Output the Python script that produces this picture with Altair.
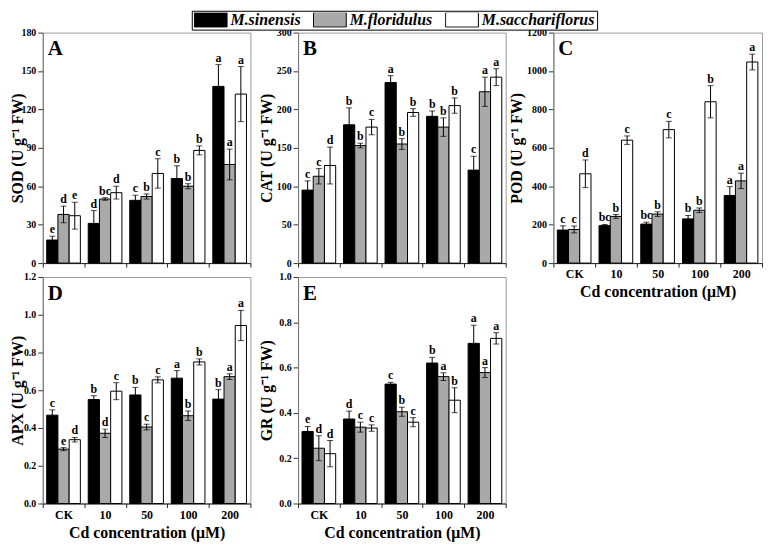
import altair as alt
import pandas as pd

FONT = "Liberation Serif"

groups = ["CK", "10", "50", "100", "200"]
species = ["M.sinensis", "M.floridulus", "M.sacchariflorus"]
fills = ["#000000", "#a9a9a9", "#ffffff"]

# A  SOD
sod_sin = [18, 31, 49, 66, 138]
sod_flo = [38, 50, 52, 60, 77]
sod_sac = [37, 55, 70, 88, 132]
sod_sin_err = [3, 10, 4, 10, 17]
sod_flo_err = [6.5, 1, 2, 2, 12]
sod_sac_err = [10.5, 5, 11.5, 3.5, 21.5]
sod_sin_sig = ["e", "d", "c", "b", "a"]
sod_flo_sig = ["d", "bc", "b", "b", "a"]
sod_sac_sig = ["e", "d", "c", "b", "a"]

# B  CAT
cat_sin = [95, 180, 235, 191, 121]
cat_flo = [113, 153, 155, 177, 223]
cat_sac = [127, 177, 196, 205, 242]
cat_sin_err = [12, 22, 9, 7, 18]
cat_flo_err = [10, 3, 7, 12, 19]
cat_sac_err = [24, 10, 5, 10, 11]
cat_sin_sig = ["c", "b", "a", "b", "c"]
cat_flo_sig = ["c", "b", "b", "b", "a"]
cat_sac_sig = ["d", "c", "b", "b", "a"]

# C  POD
pod_sin = [172, 195, 203, 230, 352]
pod_flo = [175, 243, 255, 275, 428]
pod_sac = [465, 640, 695, 840, 1047]
pod_sin_err = [22, 6, 10, 18, 46]
pod_flo_err = [18, 10, 12, 12, 40]
pod_sac_err = [72, 22, 43, 84, 41]
pod_sin_sig = ["c", "bc", "bc", "b", "a"]
pod_flo_sig = ["c", "b", "b", "b", "a"]
pod_sac_sig = ["d", "c", "c", "b", "a"]

# D  APX
apx_sin = [0.468, 0.551, 0.575, 0.664, 0.553]
apx_flo = [0.288, 0.372, 0.405, 0.465, 0.672]
apx_sac = [0.338, 0.595, 0.655, 0.750, 0.943]
apx_sin_err = [0.028, 0.020, 0.040, 0.040, 0.050]
apx_flo_err = [0.008, 0.022, 0.015, 0.025, 0.015]
apx_sac_err = [0.012, 0.045, 0.016, 0.016, 0.080]
apx_sin_sig = ["c", "b", "b", "a", "b"]
apx_flo_sig = ["e", "d", "c", "b", "a"]
apx_sac_sig = ["d", "c", "c", "b", "a"]

# E  GR
gr_sin = [0.318, 0.373, 0.527, 0.620, 0.707]
gr_flo = [0.244, 0.337, 0.405, 0.560, 0.578]
gr_sac = [0.220, 0.333, 0.359, 0.456, 0.729]
gr_sin_err = [0.022, 0.035, 0.008, 0.025, 0.080]
gr_flo_err = [0.055, 0.022, 0.020, 0.017, 0.022]
gr_sac_err = [0.058, 0.014, 0.020, 0.055, 0.025]
gr_sin_sig = ["e", "d", "c", "b", "a"]
gr_flo_sig = ["d", "c", "b", "a", "a"]
gr_sac_sig = ["d", "c", "c", "b", "a"]

sod_ticks = [0, 30, 60, 90, 120, 150, 180]
cat_ticks = [0, 50, 100, 150, 200, 250, 300]
pod_ticks = [0, 200, 400, 600, 800, 1000, 1200]
apx_ticks = [0, 0.2, 0.4, 0.6, 0.8, 1.0, 1.2]
gr_ticks = [0, 0.2, 0.4, 0.6, 0.8, 1.0]

legend = alt.Legend(
    title=None, orient="none", legendX=150, legendY=-22, direction="horizontal",
    symbolType="M-1,-0.45H1V0.45H-1Z", symbolSize=1089, symbolStrokeColor="black",
    symbolStrokeWidth=1, symbolOpacity=1, clipHeight=14, labelFont=FONT,
    labelFontStyle="italic", labelFontWeight="bold", labelFontSize=16,
    labelColor="black", labelOffset=3, columnPadding=12, padding=2,
    strokeColor="black", fillColor="white",
)


def make_df(means, errs, sigs):
    rows = []
    for sp, m, e, s in zip(species, means, errs, sigs):
        for g, v, ev, sv in zip(groups, m, e, s):
            rows.append({"group": g, "species": sp, "value": v, "lo": v - ev, "hi": v + ev, "sig": sv})
    return pd.DataFrame(rows)


def panel(means, errs, sigs, ticks, fmt, tag, ytitle, show_x, title_x, w, h):
    df = make_df(means, errs, sigs)
    xaxis = dict(tickBand="extent", tickSize=4, tickColor="#222", domainColor="#222",
                 labelAngle=0, labelPadding=2)
    if show_x:
        xaxis.update(labels=True, labelFont=FONT, labelFontSize=12, labelFontWeight="bold",
                     labelColor="black", titleFont=FONT, titleFontSize=16,
                     titleFontWeight="bold", titleColor="black", titlePadding=4)
        xenc = alt.X("group:N", sort=groups, title="Cd concentration (μM)",
                     scale=alt.Scale(paddingInner=0, paddingOuter=0), axis=alt.Axis(**xaxis))
    else:
        xaxis.update(labels=False)
        xenc = alt.X("group:N", sort=groups, title=None,
                     scale=alt.Scale(paddingInner=0, paddingOuter=0), axis=alt.Axis(**xaxis))
    xoff = alt.XOffset("species:N", sort=species,
                       scale=alt.Scale(paddingInner=0, paddingOuter=0.35))
    yscale = alt.Scale(domain=[ticks[0], ticks[-1]], nice=False, zero=True)
    yaxis = alt.Axis(values=ticks, format=fmt, grid=False, tickSize=5, labelPadding=2,
                     labelOverlap=False, labelSeparation=0, tickColor="#333",
                     domainColor="#777", labelFont=FONT, labelFontSize=10,
                     labelFontWeight="bold", labelColor="black", titleFont=FONT,
                     titleFontSize=16, titleFontWeight="bold", titleColor="black",
                     titleX=title_x)
    base = alt.Chart(df)
    bars = base.mark_bar(stroke="black", strokeWidth=1).encode(
        x=xenc, xOffset=xoff,
        y=alt.Y("value:Q", scale=yscale, axis=yaxis, title=ytitle),
        fill=alt.Fill("species:N", sort=species,
                      scale=alt.Scale(domain=species, range=fills), legend=legend),
    )
    rules = base.mark_rule(color="black", strokeWidth=1).encode(
        x=xenc, xOffset=xoff, y=alt.Y("lo:Q", scale=yscale, axis=yaxis, title=ytitle),
        y2="hi:Q")
    cap_hi = base.mark_tick(color="black", size=6, thickness=1).encode(
        x=xenc, xOffset=xoff, y=alt.Y("hi:Q", scale=yscale, axis=yaxis, title=ytitle))
    cap_lo = base.mark_tick(color="black", size=6, thickness=1).encode(
        x=xenc, xOffset=xoff, y=alt.Y("lo:Q", scale=yscale, axis=yaxis, title=ytitle))
    letters = base.mark_text(baseline="alphabetic", dy=-3, font=FONT, fontSize=12,
                             fontWeight="bold", color="black").encode(
        x=xenc, xOffset=xoff, y=alt.Y("hi:Q", scale=yscale, axis=yaxis, title=ytitle),
        text="sig:N")
    tagc = alt.Chart(pd.DataFrame({"t": [tag]})).mark_text(
        align="left", baseline="top", font=FONT, fontSize=21, fontWeight="bold",
        color="black").encode(x=alt.value(5), y=alt.value(6), text="t:N")
    return alt.layer(bars, rules, cap_hi, cap_lo, letters, tagc).properties(width=w, height=h)


TOP_H = 232
BOT_H = 228

pA = panel([sod_sin, sod_flo, sod_sac], [sod_sin_err, sod_flo_err, sod_sac_err],
           [sod_sin_sig, sod_flo_sig, sod_sac_sig], sod_ticks, "d", "A",
           "SOD (U g⁻¹ FW)", False, -17, 209, TOP_H)
pB = panel([cat_sin, cat_flo, cat_sac], [cat_sin_err, cat_flo_err, cat_sac_err],
           [cat_sin_sig, cat_flo_sig, cat_sac_sig], cat_ticks, "d", "B",
           "CAT (U g⁻¹ FW)", False, -24, 209, TOP_H)
pC = panel([pod_sin, pod_flo, pod_sac], [pod_sin_err, pod_flo_err, pod_sac_err],
           [pod_sin_sig, pod_flo_sig, pod_sac_sig], pod_ticks, "d", "C",
           "POD (U g⁻¹ FW)", True, -29, 210, TOP_H)
pD = panel([apx_sin, apx_flo, apx_sac], [apx_sin_err, apx_flo_err, apx_sac_err],
           [apx_sin_sig, apx_flo_sig, apx_sac_sig], apx_ticks, ".1f", "D",
           "APX (U g⁻¹ FW)", True, -17, 209, BOT_H)
pE = panel([gr_sin, gr_flo, gr_sac], [gr_sin_err, gr_flo_err, gr_sac_err],
           [gr_sin_sig, gr_flo_sig, gr_sac_sig], gr_ticks, ".1f", "E",
           "GR (U g⁻¹ FW)", True, -24, 209, BOT_H)

chart = alt.concat(
    pA, pB, pC, pD, pE, columns=3, spacing={"row": 14, "column": 48}, bounds="flush"
).properties(
    padding={"left": 1, "top": 0, "right": 0, "bottom": 0}
).configure(font=FONT).configure_view(stroke="#999", strokeWidth=1).configure_axis(
    labelOverlap=False
)

chart.save("out.html", embed_options={"renderer": "svg", "actions": False})
